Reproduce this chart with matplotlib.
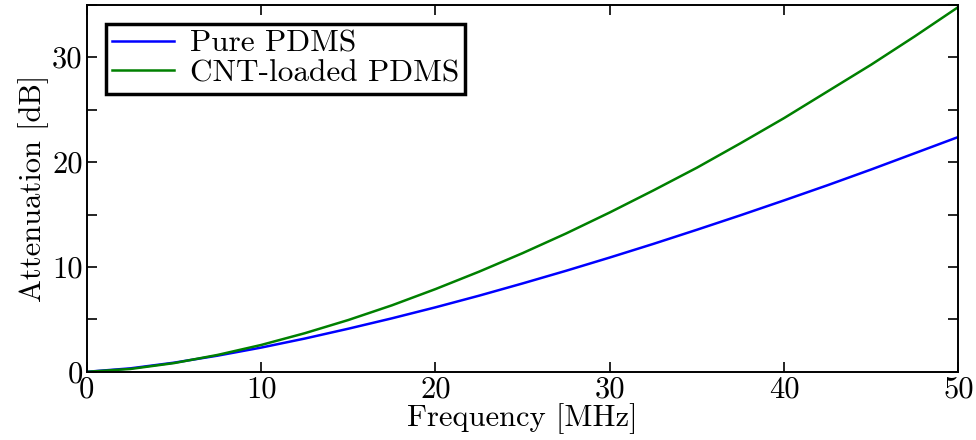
import matplotlib
matplotlib.use('Agg')
import matplotlib.pyplot as plt
from matplotlib.ticker import MultipleLocator

plt.rcParams['font.family'] = 'serif'
plt.rcParams['font.serif'] = ['cmr10', 'DejaVu Serif']
plt.rcParams['mathtext.fontset'] = 'cm'
plt.rcParams['axes.unicode_minus'] = False

#--data
freq = [0, 2.5, 5, 7.5, 10, 12.5, 15, 17.5, 20, 22.5, 25, 27.5, 30,
        32.5, 35, 37.5, 40, 42.5, 45, 47.5, 50]
att_pure = [0, 0.33, 0.87, 1.54, 2.31, 3.17, 4.11, 5.10, 6.15, 7.26, 8.43,
            9.64, 10.9, 12.2, 13.55, 14.93, 16.35, 17.8, 19.3, 20.85, 22.4]
att_cnt = [0, 0.27, 0.83, 1.61, 2.56, 3.68, 4.94, 6.34, 7.89, 9.55, 11.32,
           13.2, 15.2, 17.3, 19.47, 21.8, 24.2, 26.75, 29.3, 32.0, 34.8]

fig = plt.figure(figsize=(9.76, 4.4), dpi=100)
ax = fig.add_axes([0.089, 0.155, 0.893, 0.834])

ax.plot(freq, att_pure, c='#0000ff', lw=1.8, label='Pure PDMS')
ax.plot(freq, att_cnt, c='#008000', lw=1.8, label='CNT-loaded PDMS')

ax.set_xlim(0, 50)
ax.set_ylim(0, 35)
ax.xaxis.set_major_locator(MultipleLocator(10))
ax.yaxis.set_major_locator(MultipleLocator(10))
ax.yaxis.set_minor_locator(MultipleLocator(5))
ax.tick_params(which='both', direction='in', top=True, right=True,
               length=7, width=1.2, labelsize=22, pad=3)
for s in ax.spines.values():
  s.set_linewidth(1.4)

ax.set_xlabel('Frequency [MHz]', fontsize=22, labelpad=0)
ax.set_ylabel('Attenuation [dB]', fontsize=22, labelpad=2)

leg = ax.legend(loc='upper left', fontsize=22.5, fancybox=False, framealpha=1,
                handlelength=2.0, borderpad=0.2, labelspacing=0.05,
                handletextpad=0.5, borderaxespad=0.6)
leg.get_frame().set_edgecolor('black')
leg.get_frame().set_linewidth(2.5)

fig.savefig('out.png', dpi=100)
